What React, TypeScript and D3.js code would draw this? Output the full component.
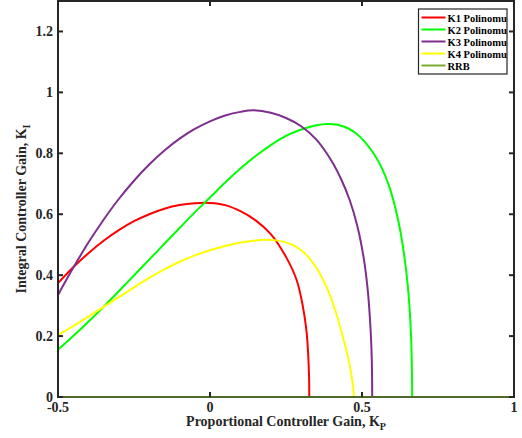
import React from "react";
import * as d3 from "d3";

type Pt = [number, number];

const k1Points: Pt[] = [
  [-0.5, 0.374], [-0.45, 0.426], [-0.4, 0.472], [-0.35, 0.513], [-0.3, 0.548],
  [-0.25, 0.577], [-0.2, 0.600], [-0.15, 0.618], [-0.1, 0.630], [-0.05, 0.636],
  [0.0, 0.637], [0.05, 0.630], [0.1, 0.610], [0.15, 0.580], [0.2, 0.535],
  [0.25, 0.460], [0.285, 0.384], [0.305, 0.30], [0.317, 0.22], [0.323, 0.14],
  [0.326, 0.06], [0.3265, 0.0],
];
const k2Points: Pt[] = [
  [-0.5, 0.155], [-0.45, 0.200], [-0.4, 0.247], [-0.35, 0.296], [-0.3, 0.347],
  [-0.25, 0.399], [-0.2, 0.451], [-0.15, 0.503], [-0.1, 0.555], [-0.05, 0.606],
  [0.0, 0.655], [0.05, 0.704], [0.1, 0.750], [0.15, 0.791], [0.2, 0.827],
  [0.25, 0.857], [0.3, 0.878], [0.35, 0.892], [0.385, 0.896], [0.42, 0.894],
  [0.45, 0.884], [0.48, 0.866], [0.51, 0.837], [0.54, 0.797], [0.565, 0.752],
  [0.59, 0.69], [0.61, 0.62], [0.627, 0.54], [0.641, 0.449], [0.652, 0.35],
  [0.659, 0.25], [0.663, 0.15], [0.6645, 0.06], [0.665, 0.0],
];
const k3Points: Pt[] = [
  [-0.5, 0.335], [-0.45, 0.424], [-0.4, 0.507], [-0.35, 0.582], [-0.3, 0.650],
  [-0.25, 0.710], [-0.2, 0.763], [-0.15, 0.809], [-0.1, 0.848], [-0.05, 0.880],
  [0.0, 0.905], [0.05, 0.924], [0.1, 0.936], [0.145, 0.941], [0.2, 0.933],
  [0.25, 0.916], [0.3, 0.889], [0.35, 0.845], [0.4, 0.775], [0.43, 0.718],
  [0.46, 0.645], [0.485, 0.56], [0.505, 0.46], [0.518, 0.36], [0.526, 0.26],
  [0.531, 0.16], [0.533, 0.08], [0.5335, 0.0],
];
const k4Points: Pt[] = [
  [-0.5, 0.203], [-0.45, 0.233], [-0.4, 0.264], [-0.35, 0.296], [-0.3, 0.328],
  [-0.25, 0.360], [-0.2, 0.391], [-0.15, 0.419], [-0.1, 0.444], [-0.05, 0.465],
  [0.0, 0.482], [0.05, 0.496], [0.1, 0.507], [0.15, 0.514], [0.18, 0.516],
  [0.21, 0.515], [0.24, 0.510], [0.27, 0.500], [0.3, 0.482], [0.33, 0.452],
  [0.36, 0.408], [0.39, 0.345], [0.415, 0.275], [0.435, 0.205], [0.452, 0.14],
  [0.464, 0.08], [0.471, 0.03], [0.4735, 0.0],
];
const rrbPoints: Pt[] = [
  [-0.5, 0.0], [1.0, 0.0],
];

const seriesNames = ["K1 Polinomu", "K2 Polinomu", "K3 Polinomu", "K4 Polinomu", "RRB"];
const seriesData = [k1Points, k2Points, k3Points, k4Points, rrbPoints];
const seriesColors = ["#ff0000", "#00ff00", "#7e2f8e", "#ffff00", "#77ac30"];

const xTicks = [-0.5, 0, 0.5, 1];
const yTicks = [0, 0.2, 0.4, 0.6, 0.8, 1, 1.2];

export default function App() {
  const W = 522;
  const H = 438;
  const left = 58;
  const right = 514;
  const top = 1;
  const bottom = 397;
  const x = d3.scaleLinear().domain([-0.5, 1]).range([left, right]);
  const y = d3.scaleLinear().domain([0, 1.3]).range([bottom, top]);
  const line = d3
    .line<Pt>()
    .x((d) => x(d[0]))
    .y((d) => y(d[1]))
    .curve(d3.curveCatmullRom.alpha(0.5));
  const font = "'Liberation Serif', 'Times New Roman', serif";
  const axisColor = "#262626";
  const tickLen = 5;
  const fmt = (v: number) => String(v);

  const legX = 418.5;
  const legY = 9;
  const legW = 88.5;
  const legH = 65;

  return (
    <svg width={W} height={H} style={{ position: "absolute", left: 0, top: 0, background: "#fff" }}>
      <rect x={0} y={0} width={W} height={H} fill="#fff" />
      {seriesData.map((pts, i) => (
        <path key={i} d={line(pts) || ""} fill="none" stroke={seriesColors[i]} strokeWidth={2} />
      ))}
      <rect x={left} y={top} width={right - left} height={bottom - top} fill="none" stroke={axisColor} strokeWidth={2} />
      <line x1={x(-0.5)} x2={x(1)} y1={y(0)} y2={y(0)} stroke="#4f6a28" strokeWidth={2} />
      {xTicks.map((t) => (
        <g key={"x" + t}>
          <line x1={x(t)} x2={x(t)} y1={bottom} y2={bottom - tickLen} stroke={axisColor} strokeWidth={2} />
          <line x1={x(t)} x2={x(t)} y1={top} y2={top + tickLen} stroke={axisColor} strokeWidth={2} />
          <text x={x(t)} y={bottom + 15} textAnchor="middle" fontFamily={font} fontWeight="bold" fontSize={14} fill={axisColor}>
            {fmt(t)}
          </text>
        </g>
      ))}
      {yTicks.map((t) => (
        <g key={"y" + t}>
          <line x1={left} x2={left + tickLen} y1={y(t)} y2={y(t)} stroke={axisColor} strokeWidth={2} />
          <line x1={right} x2={right - tickLen} y1={y(t)} y2={y(t)} stroke={axisColor} strokeWidth={2} />
          <text x={left - 5} y={y(t) + 4.5} textAnchor="end" fontFamily={font} fontWeight="bold" fontSize={14} fill={axisColor}>
            {fmt(t)}
          </text>
        </g>
      ))}
      <text x={(left + right) / 2} y={426} textAnchor="middle" fontFamily={font} fontWeight="bold" fontSize={14} fill={axisColor}>
        Proportional Controller Gain, K
        <tspan fontSize={10} dy={4}>P</tspan>
      </text>
      <text
        transform={`translate(26, ${(top + bottom) / 2 + 10}) rotate(-90)`}
        textAnchor="middle"
        fontFamily={font}
        fontWeight="bold"
        fontSize={14}
        fill={axisColor}
      >
        Integral Controller Gain, K
        <tspan fontSize={10} dy={4}>I</tspan>
      </text>
      <rect x={legX} y={legY} width={legW} height={legH} fill="#fff" stroke={axisColor} strokeWidth={1.2} />
      {seriesNames.map((n, i) => {
        const cy = legY + 8.5 + i * 12;
        return (
          <g key={n}>
            <line x1={legX + 3} x2={legX + 27} y1={cy} y2={cy} stroke={seriesColors[i]} strokeWidth={2} />
            <text x={legX + 29} y={cy + 4} fontFamily={font} fontWeight="bold" fontSize={10.5} fill="#000">
              {n}
            </text>
          </g>
        );
      })}
    </svg>
  );
}
